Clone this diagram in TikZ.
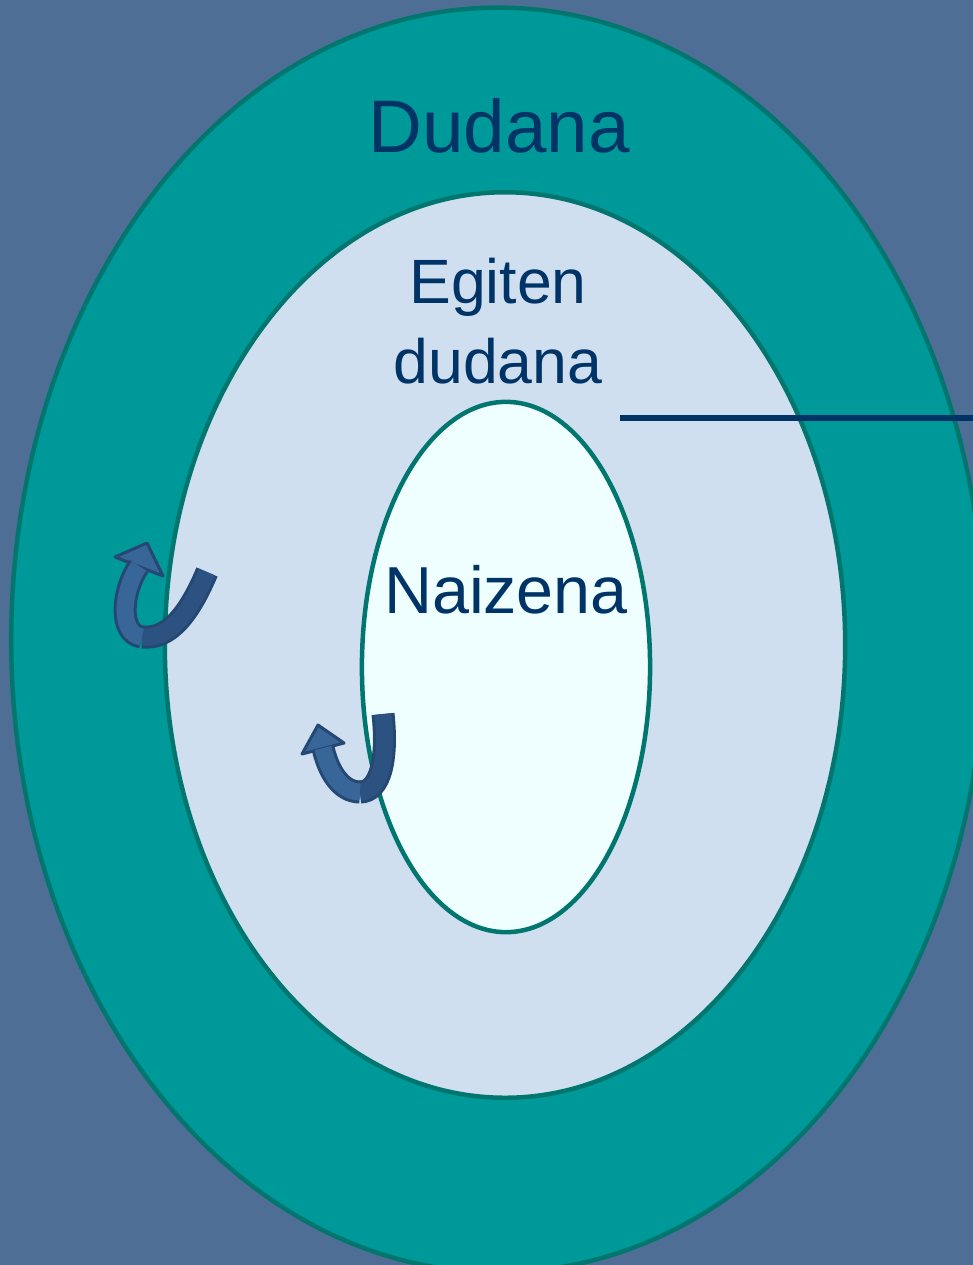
\documentclass[tikz,border=0pt]{standalone}
\usepackage{fontspec}
\setmainfont{Liberation Sans}
\usetikzlibrary{calc}
\definecolor{slideblue}{HTML}{4F6E96}
\definecolor{outerteal}{HTML}{009999}
\definecolor{rimteal}{HTML}{00766F}
\definecolor{midblue}{HTML}{D0DFF0}
\definecolor{innerwhite}{HTML}{EFFFFF}
\definecolor{navy}{HTML}{003366}
\definecolor{arrowfront}{HTML}{386699}
\definecolor{arrowback}{HTML}{2C5282}
\definecolor{arrowrim}{HTML}{254872}

\begin{document}
\begin{tikzpicture}[x=0.01cm,y=-0.01cm,
    rim/.style={draw=rimteal,line width=0.045cm},
    band/.style={draw=arrowrim,line width=0.03cm,double distance=0.17cm},
    arrowhead/.style={fill=arrowfront,draw=arrowrim,line width=0.03cm,line join=round},
    label/.style={text=navy,inner sep=0}]
        \useasboundingbox (0,0) rectangle (973,1265);
        % Draw the slide background
        \fill[slideblue] (0,0) rectangle (973,1265);
        % Draw the three ellipses
        \filldraw[rim,fill=outerteal] (498,640) ellipse [x radius=4.865cm, y radius=6.32cm];
        \filldraw[rim,fill=midblue] (505,645) ellipse [x radius=3.40cm, y radius=4.525cm];
        \filldraw[rim,fill=innerwhite] (506,667) ellipse [x radius=1.44cm, y radius=2.65cm];
        % label the regions
        \node[label,anchor=base,font=\fontsize{21.2pt}{24pt}\selectfont] (dudana) at (499,152) {Dudana};
        \node[label,align=center,font=\fontsize{17.8pt}{22.8pt}\selectfont] (egiten) at (498,321) {Egiten\\dudana};
        \node[label,anchor=base,font=\fontsize{18.9pt}{22pt}\selectfont] (naizena) at (506,613) {Naizena};
        % Draw the pointer line
        \coordinate (lineStart) at (620,418);
        \coordinate (lineEnd) at (975,418);
        \draw[navy,line width=0.06cm] (lineStart) -- (lineEnd);
        % Draw the left turning arrow
        \coordinate (tailA) at (207,572);
        \coordinate (bottomA) at (142,637);
        \coordinate (baseA) at (139,566);
        \draw[band,double=arrowback] (tailA) .. controls (190,612) and (170,640) .. (bottomA);
        \filldraw[arrowhead] (147,543) -- (115,557) -- (163,576) -- cycle;
        \draw[band,double=arrowfront] (bottomA) .. controls (118,634) and (122,590) .. (baseA);
        % Draw the inner turning arrow
        \coordinate (tailB) at (383,714);
        \coordinate (bottomB) at (360,792);
        \coordinate (baseB) at (323,748);
        \draw[band,double=arrowback] (tailB) .. controls (388,760) and (380,792) .. (bottomB);
        \filldraw[arrowhead] (318,725) -- (302,754) -- (344,743) -- cycle;
        \draw[band,double=arrowfront] (bottomB) .. controls (340,792) and (328,770) .. (baseB);
\end{tikzpicture}
\end{document}
